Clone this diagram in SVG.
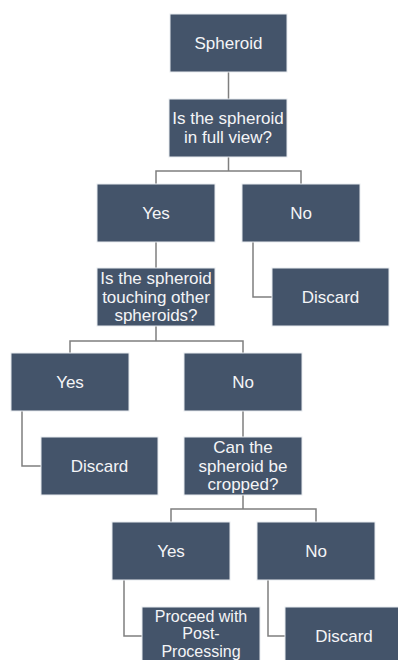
<svg xmlns="http://www.w3.org/2000/svg" width="398" height="660" viewBox="0 0 398 660">
<style>
.box{fill:#44546a;stroke:#e8ebef;stroke-width:1}
.t{font-family:"Liberation Sans",Arial,sans-serif;font-size:17px;fill:#f4f5f7;text-anchor:middle;dominant-baseline:central}
.s{font-size:16px}
.c{fill:none;stroke:#7f7f7f;stroke-width:1.5}
</style>
<rect width="398" height="660" fill="#ffffff"/>
<g id="connectors">
<path class="c" d="M228.5 72V99"/>
<path class="c" d="M228.5 157V171M156 184V171H301V184"/>
<path class="c" d="M156 242V268"/>
<path class="c" d="M253 242V297H272"/>
<path class="c" d="M156 326V341M70 353V341H243V353"/>
<path class="c" d="M22 411V466H41"/>
<path class="c" d="M243 411V437"/>
<path class="c" d="M243 495V509M171 522V509H316V522"/>
<path class="c" d="M124 580V636H142"/>
<path class="c" d="M268 580V636H285"/>
</g>
<g id="n1"><rect class="box" x="170" y="14" width="117" height="58"/><text class="t" x="228.5" y="43">Spheroid</text></g>
<g id="n2"><rect class="box" x="169" y="99" width="118" height="58"/><text class="t" x="228" y="118.5">Is the spheroid</text><text class="t" x="228" y="137.5">in full view?</text></g>
<g id="n3"><rect class="box" x="97" y="184" width="118" height="58"/><text class="t" x="156" y="213">Yes</text></g>
<g id="n4"><rect class="box" x="242" y="184" width="118" height="58"/><text class="t" x="301" y="213">No</text></g>
<g id="n5"><rect class="box" x="97" y="268" width="118" height="58"/><text class="t" x="156" y="278.5">Is the spheroid</text><text class="t" x="156" y="297">touching other</text><text class="t" x="156" y="315.5">spheroids?</text></g>
<g id="n6"><rect class="box" x="272" y="268" width="117" height="58"/><text class="t" x="330.5" y="297">Discard</text></g>
<g id="n7"><rect class="box" x="11" y="353" width="118" height="58"/><text class="t" x="70" y="382">Yes</text></g>
<g id="n8"><rect class="box" x="184" y="353" width="118" height="58"/><text class="t" x="243" y="382">No</text></g>
<g id="n9"><rect class="box" x="41" y="437" width="117" height="58"/><text class="t" x="99.5" y="466">Discard</text></g>
<g id="n10"><rect class="box" x="184" y="437" width="118" height="58"/><text class="t" x="243" y="447.5">Can the</text><text class="t" x="243" y="466">spheroid be</text><text class="t" x="243" y="484.5">cropped?</text></g>
<g id="n11"><rect class="box" x="112" y="522" width="118" height="58"/><text class="t" x="171" y="551">Yes</text></g>
<g id="n12"><rect class="box" x="257" y="522" width="118" height="58"/><text class="t" x="316" y="551">No</text></g>
<g id="n13"><rect class="box" x="142" y="607" width="118" height="58"/><text class="t s" x="201" y="616">Proceed with</text><text class="t s" x="201" y="633.5">Post-</text><text class="t s" x="201" y="651">Processing</text></g>
<g id="n14"><rect class="box" x="285" y="607" width="118" height="58"/><text class="t" x="344" y="636">Discard</text></g>
</svg>
